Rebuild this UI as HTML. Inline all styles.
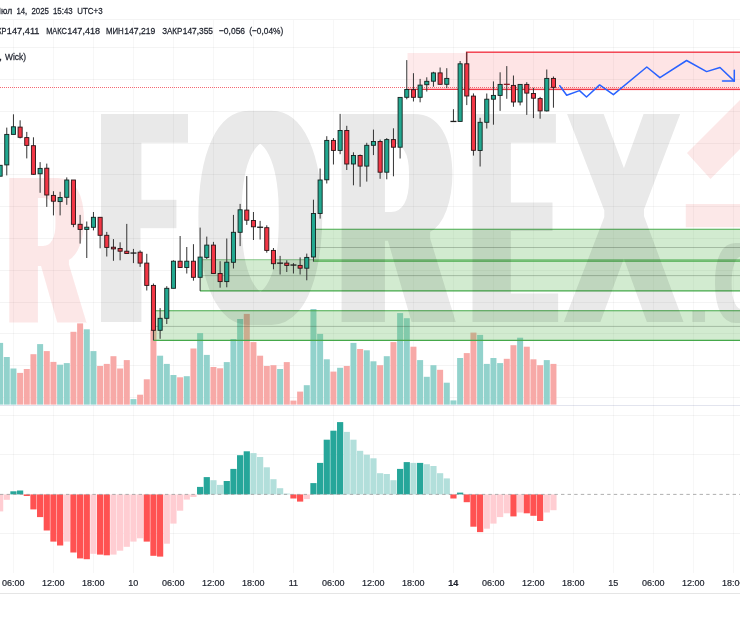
<!DOCTYPE html>
<html lang="ru"><head><meta charset="utf-8"><title>Chart</title>
<style>
html,body{margin:0;padding:0;background:#fff;}
body{width:740px;height:620px;overflow:hidden;}
svg{display:block;}
text{font-family:"Liberation Sans",sans-serif;}
.ax{font-size:9.0px;fill:#1e222d;stroke:#1e222d;stroke-width:0.2px;text-anchor:middle;}
.hd{font-size:9.6px;fill:#1e222d;stroke:#1e222d;stroke-width:0.26px;}
</style></head>
<body>
<svg width="740" height="620" viewBox="0 0 740 620">
<defs>
<filter id="fat" x="-5%" y="-5%" width="110%" height="110%"><feMorphology operator="dilate" radius="11 0"/><feMorphology operator="erode" radius="0 3"/></filter>
<filter id="fatR" x="-20%" y="-5%" width="140%" height="110%"><feMorphology operator="dilate" radius="7 0"/><feMorphology operator="erode" radius="0 2"/></filter>
<filter id="fatC" x="-20%" y="-5%" width="140%" height="110%"><feMorphology operator="dilate" radius="4 0"/></filter>
<clipPath id="fclip"><path clip-rule="evenodd" d="M0,0H740V620H0Z M140.5,203H197V252H140.5Z"/></clipPath>
</defs>
<rect width="740" height="620" fill="#ffffff"/>
<g id="grid" stroke="rgba(0,0,0,0.042)" stroke-width="1" shape-rendering="crispEdges">
<line x1="13.5" y1="19.5" x2="13.5" y2="573" stroke="rgba(0,0,0,0.032)"/><line x1="53.5" y1="19.5" x2="53.5" y2="573" stroke="rgba(0,0,0,0.032)"/><line x1="93.5" y1="19.5" x2="93.5" y2="573" stroke="rgba(0,0,0,0.032)"/><line x1="133.5" y1="19.5" x2="133.5" y2="573" stroke="rgba(0,0,0,0.032)"/><line x1="173.5" y1="19.5" x2="173.5" y2="573" stroke="rgba(0,0,0,0.032)"/><line x1="213.5" y1="19.5" x2="213.5" y2="573" stroke="rgba(0,0,0,0.032)"/><line x1="253.5" y1="19.5" x2="253.5" y2="573" stroke="rgba(0,0,0,0.032)"/><line x1="293.5" y1="19.5" x2="293.5" y2="573" stroke="rgba(0,0,0,0.032)"/><line x1="333.5" y1="19.5" x2="333.5" y2="573" stroke="rgba(0,0,0,0.032)"/><line x1="373.5" y1="19.5" x2="373.5" y2="573" stroke="rgba(0,0,0,0.032)"/><line x1="413.5" y1="19.5" x2="413.5" y2="573" stroke="rgba(0,0,0,0.032)"/><line x1="453.5" y1="19.5" x2="453.5" y2="573" stroke="rgba(0,0,0,0.032)"/><line x1="493.5" y1="19.5" x2="493.5" y2="573" stroke="rgba(0,0,0,0.032)"/><line x1="533.5" y1="19.5" x2="533.5" y2="573" stroke="rgba(0,0,0,0.032)"/><line x1="573.5" y1="19.5" x2="573.5" y2="573" stroke="rgba(0,0,0,0.032)"/><line x1="613.5" y1="19.5" x2="613.5" y2="573" stroke="rgba(0,0,0,0.032)"/><line x1="653.5" y1="19.5" x2="653.5" y2="573" stroke="rgba(0,0,0,0.032)"/><line x1="693.5" y1="19.5" x2="693.5" y2="573" stroke="rgba(0,0,0,0.032)"/><line x1="733.5" y1="19.5" x2="733.5" y2="573" stroke="rgba(0,0,0,0.032)"/>
<line x1="0" y1="47.7" x2="740" y2="47.7"/><line x1="0" y1="79.5" x2="740" y2="79.5"/><line x1="0" y1="111.3" x2="740" y2="111.3"/><line x1="0" y1="143.1" x2="740" y2="143.1"/><line x1="0" y1="174.9" x2="740" y2="174.9"/><line x1="0" y1="206.7" x2="740" y2="206.7"/><line x1="0" y1="238.5" x2="740" y2="238.5"/><line x1="0" y1="270.3" x2="740" y2="270.3"/><line x1="0" y1="302.1" x2="740" y2="302.1"/><line x1="0" y1="333.9" x2="740" y2="333.9"/><line x1="0" y1="365.7" x2="740" y2="365.7"/><line x1="0" y1="397.5" x2="740" y2="397.5"/><line x1="0" y1="415.4" x2="740" y2="415.4"/><line x1="0" y1="454.7" x2="740" y2="454.7"/><line x1="0" y1="533.3" x2="740" y2="533.3"/>
<line x1="0" y1="19.5" x2="740" y2="19.5"/><line x1="0" y1="593.8" x2="740" y2="593.8" stroke="rgba(0,0,0,0.1)"/>
<line x1="0" y1="405" x2="740" y2="405" stroke="rgba(30,50,120,0.13)"/>
</g>
<g id="volume">
<rect x="-2.88" y="342.9" width="6" height="61.7" fill="#92d2cc"/><rect x="3.78" y="357.0" width="6" height="47.6" fill="#92d2cc"/><rect x="10.45" y="368.5" width="6" height="36.1" fill="#92d2cc"/><rect x="17.12" y="372.9" width="6" height="31.7" fill="#f7a9a7"/><rect x="23.78" y="369.0" width="6" height="35.6" fill="#f7a9a7"/><rect x="30.45" y="354.2" width="6" height="50.4" fill="#f7a9a7"/><rect x="37.12" y="344.1" width="6" height="60.5" fill="#92d2cc"/><rect x="43.78" y="351.1" width="6" height="53.5" fill="#f7a9a7"/><rect x="50.45" y="361.9" width="6" height="42.7" fill="#f7a9a7"/><rect x="57.12" y="364.7" width="6" height="39.9" fill="#92d2cc"/><rect x="63.78" y="363.1" width="6" height="41.5" fill="#92d2cc"/><rect x="70.45" y="331.8" width="6" height="72.8" fill="#f7a9a7"/><rect x="77.12" y="323.4" width="6" height="81.2" fill="#f7a9a7"/><rect x="83.78" y="329.3" width="6" height="75.3" fill="#92d2cc"/><rect x="90.45" y="351.1" width="6" height="53.5" fill="#92d2cc"/><rect x="97.12" y="366.0" width="6" height="38.6" fill="#f7a9a7"/><rect x="103.78" y="363.9" width="6" height="40.7" fill="#f7a9a7"/><rect x="110.45" y="356.2" width="6" height="48.4" fill="#f7a9a7"/><rect x="117.12" y="368.5" width="6" height="36.1" fill="#f7a9a7"/><rect x="123.78" y="360.1" width="6" height="44.5" fill="#f7a9a7"/><rect x="130.45" y="399.1" width="6" height="5.5" fill="#92d2cc"/><rect x="137.12" y="394.7" width="6" height="9.9" fill="#f7a9a7"/><rect x="143.78" y="379.3" width="6" height="25.3" fill="#f7a9a7"/><rect x="150.45" y="329.8" width="6" height="74.8" fill="#f7a9a7"/><rect x="157.12" y="355.7" width="6" height="48.9" fill="#92d2cc"/><rect x="163.78" y="363.9" width="6" height="40.7" fill="#92d2cc"/><rect x="170.45" y="375.0" width="6" height="29.6" fill="#92d2cc"/><rect x="177.12" y="377.3" width="6" height="27.3" fill="#f7a9a7"/><rect x="183.78" y="376.2" width="6" height="28.4" fill="#92d2cc"/><rect x="190.45" y="348.5" width="6" height="56.1" fill="#f7a9a7"/><rect x="197.12" y="333.1" width="6" height="71.5" fill="#92d2cc"/><rect x="203.78" y="354.9" width="6" height="49.7" fill="#92d2cc"/><rect x="210.45" y="367.0" width="6" height="37.6" fill="#f7a9a7"/><rect x="217.12" y="368.3" width="6" height="36.3" fill="#f7a9a7"/><rect x="223.78" y="362.1" width="6" height="42.5" fill="#92d2cc"/><rect x="230.45" y="339.0" width="6" height="65.6" fill="#92d2cc"/><rect x="237.12" y="319.0" width="6" height="85.6" fill="#92d2cc"/><rect x="243.78" y="313.9" width="6" height="90.7" fill="#f7a9a7"/><rect x="250.45" y="342.1" width="6" height="62.5" fill="#f7a9a7"/><rect x="257.12" y="355.7" width="6" height="48.9" fill="#f7a9a7"/><rect x="263.78" y="366.0" width="6" height="38.6" fill="#f7a9a7"/><rect x="270.45" y="365.2" width="6" height="39.4" fill="#f7a9a7"/><rect x="277.12" y="369.0" width="6" height="35.6" fill="#92d2cc"/><rect x="283.78" y="362.1" width="6" height="42.5" fill="#f7a9a7"/><rect x="290.45" y="400.6" width="6" height="4.0" fill="#f7a9a7"/><rect x="297.12" y="391.6" width="6" height="13.0" fill="#f7a9a7"/><rect x="303.78" y="385.2" width="6" height="19.4" fill="#92d2cc"/><rect x="310.45" y="309.0" width="6" height="95.6" fill="#92d2cc"/><rect x="317.12" y="333.9" width="6" height="70.7" fill="#92d2cc"/><rect x="323.78" y="359.3" width="6" height="45.3" fill="#92d2cc"/><rect x="330.45" y="371.6" width="6" height="33.0" fill="#f7a9a7"/><rect x="337.12" y="367.8" width="6" height="36.8" fill="#92d2cc"/><rect x="343.78" y="366.0" width="6" height="38.6" fill="#f7a9a7"/><rect x="350.45" y="342.9" width="6" height="61.7" fill="#92d2cc"/><rect x="357.12" y="349.0" width="6" height="55.6" fill="#f7a9a7"/><rect x="363.78" y="350.3" width="6" height="54.3" fill="#92d2cc"/><rect x="370.45" y="361.3" width="6" height="43.3" fill="#92d2cc"/><rect x="377.12" y="365.2" width="6" height="39.4" fill="#f7a9a7"/><rect x="383.78" y="356.2" width="6" height="48.4" fill="#92d2cc"/><rect x="390.45" y="342.1" width="6" height="62.5" fill="#f7a9a7"/><rect x="397.12" y="313.1" width="6" height="91.5" fill="#92d2cc"/><rect x="403.78" y="318.2" width="6" height="86.4" fill="#92d2cc"/><rect x="410.45" y="346.7" width="6" height="57.9" fill="#f7a9a7"/><rect x="417.12" y="360.1" width="6" height="44.5" fill="#92d2cc"/><rect x="423.78" y="376.8" width="6" height="27.8" fill="#92d2cc"/><rect x="430.45" y="365.2" width="6" height="39.4" fill="#92d2cc"/><rect x="437.12" y="369.8" width="6" height="34.8" fill="#f7a9a7"/><rect x="443.78" y="382.7" width="6" height="21.9" fill="#92d2cc"/><rect x="450.45" y="400.4" width="6" height="4.2" fill="#92d2cc"/><rect x="457.12" y="358.0" width="6" height="46.6" fill="#92d2cc"/><rect x="463.78" y="353.1" width="6" height="51.5" fill="#f7a9a7"/><rect x="470.45" y="332.6" width="6" height="72.0" fill="#f7a9a7"/><rect x="477.12" y="334.9" width="6" height="69.7" fill="#92d2cc"/><rect x="483.78" y="363.9" width="6" height="40.7" fill="#92d2cc"/><rect x="490.45" y="358.0" width="6" height="46.6" fill="#92d2cc"/><rect x="497.12" y="363.1" width="6" height="41.5" fill="#92d2cc"/><rect x="503.78" y="358.8" width="6" height="45.8" fill="#f7a9a7"/><rect x="510.45" y="345.2" width="6" height="59.4" fill="#f7a9a7"/><rect x="517.12" y="337.7" width="6" height="66.9" fill="#92d2cc"/><rect x="523.78" y="346.7" width="6" height="57.9" fill="#f7a9a7"/><rect x="530.45" y="359.3" width="6" height="45.3" fill="#f7a9a7"/><rect x="537.12" y="365.2" width="6" height="39.4" fill="#f7a9a7"/><rect x="543.78" y="360.1" width="6" height="44.5" fill="#92d2cc"/><rect x="550.45" y="363.9" width="6" height="40.7" fill="#f7a9a7"/>
</g>
<g id="macd">
<rect x="-2.98" y="494.4" width="6.2" height="17.0" fill="#ffcdd2"/><rect x="3.68" y="494.4" width="6.2" height="5.4" fill="#ffcdd2"/><rect x="10.35" y="491.3" width="6.2" height="3.1" fill="#26a69a"/><rect x="17.02" y="490.5" width="6.2" height="3.9" fill="#26a69a"/><rect x="23.68" y="494.4" width="6.2" height="1.6" fill="#ff5252"/><rect x="30.35" y="494.4" width="6.2" height="15.0" fill="#ff5252"/><rect x="37.02" y="494.4" width="6.2" height="22.7" fill="#ff5252"/><rect x="43.68" y="494.4" width="6.2" height="36.1" fill="#ff5252"/><rect x="50.35" y="494.4" width="6.2" height="47.2" fill="#ff5252"/><rect x="57.02" y="494.4" width="6.2" height="51.1" fill="#ff5252"/><rect x="63.68" y="494.4" width="6.2" height="47.2" fill="#ffcdd2"/><rect x="70.35" y="494.4" width="6.2" height="58.1" fill="#ff5252"/><rect x="77.02" y="494.4" width="6.2" height="64.0" fill="#ff5252"/><rect x="83.68" y="494.4" width="6.2" height="64.8" fill="#ff5252"/><rect x="90.35" y="494.4" width="6.2" height="59.4" fill="#ffcdd2"/><rect x="97.02" y="494.4" width="6.2" height="60.2" fill="#ff5252"/><rect x="103.68" y="494.4" width="6.2" height="60.9" fill="#ff5252"/><rect x="110.35" y="494.4" width="6.2" height="60.2" fill="#ffcdd2"/><rect x="117.02" y="494.4" width="6.2" height="56.3" fill="#ffcdd2"/><rect x="123.68" y="494.4" width="6.2" height="52.4" fill="#ffcdd2"/><rect x="130.35" y="494.4" width="6.2" height="47.2" fill="#ffcdd2"/><rect x="137.02" y="494.4" width="6.2" height="43.9" fill="#ffcdd2"/><rect x="143.68" y="494.4" width="6.2" height="47.2" fill="#ff5252"/><rect x="150.35" y="494.4" width="6.2" height="61.4" fill="#ff5252"/><rect x="157.02" y="494.4" width="6.2" height="62.2" fill="#ff5252"/><rect x="163.68" y="494.4" width="6.2" height="49.3" fill="#ffcdd2"/><rect x="170.35" y="494.4" width="6.2" height="29.2" fill="#ffcdd2"/><rect x="177.02" y="494.4" width="6.2" height="16.3" fill="#ffcdd2"/><rect x="183.68" y="494.4" width="6.2" height="5.2" fill="#ffcdd2"/><rect x="190.35" y="494.4" width="6.2" height="2.6" fill="#ffcdd2"/><rect x="197.02" y="486.9" width="6.2" height="7.5" fill="#26a69a"/><rect x="203.68" y="477.1" width="6.2" height="17.3" fill="#26a69a"/><rect x="210.35" y="480.2" width="6.2" height="14.2" fill="#b2dfdb"/><rect x="217.02" y="484.9" width="6.2" height="9.5" fill="#b2dfdb"/><rect x="223.68" y="481.0" width="6.2" height="13.4" fill="#26a69a"/><rect x="230.35" y="468.9" width="6.2" height="25.5" fill="#26a69a"/><rect x="237.02" y="455.2" width="6.2" height="39.2" fill="#26a69a"/><rect x="243.68" y="451.3" width="6.2" height="43.1" fill="#26a69a"/><rect x="250.35" y="453.1" width="6.2" height="41.3" fill="#b2dfdb"/><rect x="257.02" y="457.0" width="6.2" height="37.4" fill="#b2dfdb"/><rect x="263.68" y="467.3" width="6.2" height="27.1" fill="#b2dfdb"/><rect x="270.35" y="479.2" width="6.2" height="15.2" fill="#b2dfdb"/><rect x="277.02" y="488.2" width="6.2" height="6.2" fill="#b2dfdb"/><rect x="283.68" y="493.6" width="6.2" height="0.8" fill="#b2dfdb"/><rect x="290.35" y="494.4" width="6.2" height="4.1" fill="#ff5252"/><rect x="297.02" y="494.4" width="6.2" height="7.2" fill="#ff5252"/><rect x="303.68" y="494.4" width="6.2" height="4.7" fill="#ffcdd2"/><rect x="310.35" y="483.1" width="6.2" height="11.3" fill="#26a69a"/><rect x="317.02" y="462.9" width="6.2" height="31.5" fill="#26a69a"/><rect x="323.68" y="439.7" width="6.2" height="54.7" fill="#26a69a"/><rect x="330.35" y="430.7" width="6.2" height="63.7" fill="#26a69a"/><rect x="337.02" y="422.1" width="6.2" height="72.3" fill="#26a69a"/><rect x="343.68" y="431.9" width="6.2" height="62.5" fill="#b2dfdb"/><rect x="350.35" y="439.7" width="6.2" height="54.7" fill="#b2dfdb"/><rect x="357.02" y="450.8" width="6.2" height="43.6" fill="#b2dfdb"/><rect x="363.68" y="454.7" width="6.2" height="39.7" fill="#b2dfdb"/><rect x="370.35" y="458.3" width="6.2" height="36.1" fill="#b2dfdb"/><rect x="377.02" y="473.2" width="6.2" height="21.2" fill="#b2dfdb"/><rect x="383.68" y="474.0" width="6.2" height="20.4" fill="#b2dfdb"/><rect x="390.35" y="480.2" width="6.2" height="14.2" fill="#b2dfdb"/><rect x="397.02" y="468.9" width="6.2" height="25.5" fill="#26a69a"/><rect x="403.68" y="462.1" width="6.2" height="32.3" fill="#26a69a"/><rect x="410.35" y="462.9" width="6.2" height="31.5" fill="#b2dfdb"/><rect x="417.02" y="462.9" width="6.2" height="31.5" fill="#26a69a"/><rect x="423.68" y="464.2" width="6.2" height="30.2" fill="#b2dfdb"/><rect x="430.35" y="466.0" width="6.2" height="28.4" fill="#b2dfdb"/><rect x="437.02" y="473.2" width="6.2" height="21.2" fill="#b2dfdb"/><rect x="443.68" y="478.4" width="6.2" height="16.0" fill="#b2dfdb"/><rect x="450.35" y="494.4" width="6.2" height="4.1" fill="#ff5252"/><rect x="457.02" y="492.6" width="6.2" height="1.8" fill="#26a69a"/><rect x="463.68" y="494.4" width="6.2" height="7.8" fill="#ff5252"/><rect x="470.35" y="494.4" width="6.2" height="32.3" fill="#ff5252"/><rect x="477.02" y="494.4" width="6.2" height="37.7" fill="#ff5252"/><rect x="483.68" y="494.4" width="6.2" height="34.3" fill="#ffcdd2"/><rect x="490.35" y="494.4" width="6.2" height="29.2" fill="#ffcdd2"/><rect x="497.02" y="494.4" width="6.2" height="22.7" fill="#ffcdd2"/><rect x="503.68" y="494.4" width="6.2" height="18.9" fill="#ffcdd2"/><rect x="510.35" y="494.4" width="6.2" height="22.0" fill="#ff5252"/><rect x="517.02" y="494.4" width="6.2" height="18.1" fill="#ffcdd2"/><rect x="523.68" y="494.4" width="6.2" height="18.9" fill="#ff5252"/><rect x="530.35" y="494.4" width="6.2" height="21.4" fill="#ff5252"/><rect x="537.02" y="494.4" width="6.2" height="26.6" fill="#ff5252"/><rect x="543.68" y="494.4" width="6.2" height="18.1" fill="#ffcdd2"/><rect x="550.35" y="494.4" width="6.2" height="15.8" fill="#ffcdd2"/>
<line x1="0" y1="494.4" x2="740" y2="494.4" stroke="#9a9a9a" stroke-width="0.8" stroke-dasharray="3.4 3.2"/>
</g>
<g id="zones">
<rect x="407.5" y="53" width="340" height="36.5" fill="rgba(242,54,69,0.105)"/>
<rect x="466.6" y="52.2" width="280" height="37.2" fill="rgba(242,54,69,0.03)" stroke="#f23645" stroke-width="1.4"/>
<line x1="407.5" y1="89.4" x2="470" y2="89.4" stroke="#f23645" stroke-width="1.4"/>
<rect x="313.4" y="229.3" width="446.6" height="31.8" fill="rgba(88,180,80,0.27)"/><line x1="313.4" y1="229.3" x2="740" y2="229.3" stroke="#45a84a" stroke-width="1.1" opacity="1"/><line x1="313.4" y1="261.1" x2="740" y2="261.1" stroke="#45a84a" stroke-width="1.2"/><line x1="313.4" y1="247.5" x2="740" y2="247.5" stroke="rgba(50,70,50,0.36)" stroke-width="0.8"/>
<rect x="200" y="259.6" width="560" height="31.3" fill="rgba(88,180,80,0.27)"/><line x1="200" y1="259.6" x2="740" y2="259.6" stroke="#45a84a" stroke-width="1.1" opacity="0.45"/><line x1="200" y1="290.9" x2="740" y2="290.9" stroke="#45a84a" stroke-width="1.2"/><line x1="200" y1="275.6" x2="740" y2="275.6" stroke="rgba(50,70,50,0.36)" stroke-width="0.8"/>
<rect x="153.4" y="310.8" width="606.6" height="29.6" fill="rgba(88,180,80,0.27)"/><line x1="153.4" y1="310.8" x2="740" y2="310.8" stroke="#45a84a" stroke-width="1.1" opacity="1"/><line x1="153.4" y1="340.4" x2="740" y2="340.4" stroke="#45a84a" stroke-width="1.2"/><line x1="153.4" y1="326.4" x2="740" y2="326.4" stroke="rgba(50,70,50,0.36)" stroke-width="0.8"/>
</g>
<g id="watermark">
<g opacity="0.1">
<g filter="url(#fatR)"><text y="323.5" font-size="215" font-weight="bold" fill="#e31e24"><tspan x="9.4" textLength="73.2" lengthAdjust="spacingAndGlyphs">R</tspan></text></g>
</g>
<g opacity="0.088">
<g filter="url(#fat)" clip-path="url(#fclip)"><text y="325" font-size="311" font-weight="bold" fill="#000000"><tspan x="103.4" textLength="78.3" lengthAdjust="spacingAndGlyphs">F</tspan><tspan x="203.3" textLength="114.2" lengthAdjust="spacingAndGlyphs">O</tspan><tspan x="342.7" textLength="106.9" lengthAdjust="spacingAndGlyphs">R</tspan><tspan x="475.9" textLength="75.7" lengthAdjust="spacingAndGlyphs">E</tspan><tspan x="568.8" textLength="109.4" lengthAdjust="spacingAndGlyphs" font-weight="normal">X</tspan></text></g>
<rect x="139" y="199.8" width="37.4" height="28.4" fill="#000000"/>
<g filter="url(#fatC)"><text y="322" font-size="114" font-weight="bold" fill="#000000"><tspan x="693.9" textLength="9.4" lengthAdjust="spacingAndGlyphs" font-size="74">.</tspan><tspan x="716.6" textLength="43.3" lengthAdjust="spacingAndGlyphs">C</tspan><tspan x="770.5" textLength="46.7" lengthAdjust="spacingAndGlyphs">O</tspan><tspan x="823.0" textLength="50.0" lengthAdjust="spacingAndGlyphs">M</tspan></text></g>
</g>
<g opacity="0.1">
<polygon points="687,153 740,100 740,149 710.5,179" fill="#e31e24"/>
<rect x="685.8" y="204" width="60" height="23.2" fill="#e31e24"/>
</g>
</g>
<line x1="0" y1="87.5" x2="740" y2="87.5" stroke="#f23645" stroke-width="1" stroke-dasharray="1 1" opacity="0.75" shape-rendering="crispEdges"/>
<g id="candles">
<line x1="0.12" y1="165.3" x2="0.12" y2="176.2" stroke="#333333" stroke-width="1"/><rect x="-1.93" y="165.3" width="4.1" height="10.9" fill="#22a890" stroke="#14221f" stroke-width="0.9"/>
<line x1="6.78" y1="127.6" x2="6.78" y2="175.4" stroke="#333333" stroke-width="1"/><rect x="4.73" y="134.4" width="4.1" height="30.5" fill="#22a890" stroke="#14221f" stroke-width="0.9"/>
<line x1="13.45" y1="114.3" x2="13.45" y2="134.4" stroke="#333333" stroke-width="1"/><rect x="11.40" y="126.8" width="4.1" height="7.6" fill="#22a890" stroke="#14221f" stroke-width="0.9"/>
<line x1="20.12" y1="120.3" x2="20.12" y2="138.4" stroke="#333333" stroke-width="1"/><rect x="18.07" y="127.1" width="4.1" height="10.2" fill="#f23645" stroke="#2a1416" stroke-width="0.9"/>
<line x1="26.78" y1="131.9" x2="26.78" y2="158.4" stroke="#333333" stroke-width="1"/><rect x="24.73" y="137.6" width="4.1" height="7.8" fill="#f23645" stroke="#2a1416" stroke-width="0.9"/>
<line x1="33.45" y1="137.3" x2="33.45" y2="174.9" stroke="#333333" stroke-width="1"/><rect x="31.40" y="145.7" width="4.1" height="28.6" fill="#f23645" stroke="#2a1416" stroke-width="0.9"/>
<line x1="40.12" y1="162.1" x2="40.12" y2="192.8" stroke="#333333" stroke-width="1"/><rect x="38.07" y="168.4" width="4.1" height="5.4" fill="#22a890" stroke="#14221f" stroke-width="0.9"/>
<line x1="46.78" y1="163.6" x2="46.78" y2="206.9" stroke="#333333" stroke-width="1"/><rect x="44.73" y="168.2" width="4.1" height="26.8" fill="#f23645" stroke="#2a1416" stroke-width="0.9"/>
<line x1="53.45" y1="191.2" x2="53.45" y2="215.4" stroke="#333333" stroke-width="1"/><rect x="51.40" y="195.4" width="4.1" height="5.8" fill="#f23645" stroke="#2a1416" stroke-width="0.9"/>
<line x1="60.12" y1="191.8" x2="60.12" y2="215.4" stroke="#333333" stroke-width="1"/><rect x="58.07" y="197.5" width="4.1" height="4.1" fill="#22a890" stroke="#14221f" stroke-width="0.9"/>
<line x1="66.78" y1="177.4" x2="66.78" y2="204.8" stroke="#333333" stroke-width="1"/><rect x="64.73" y="180.0" width="4.1" height="17.3" fill="#22a890" stroke="#14221f" stroke-width="0.9"/>
<line x1="73.45" y1="180" x2="73.45" y2="227.2" stroke="#333333" stroke-width="1"/><rect x="71.40" y="180.0" width="4.1" height="44.3" fill="#f23645" stroke="#2a1416" stroke-width="0.9"/>
<line x1="80.12" y1="214.9" x2="80.12" y2="243.6" stroke="#333333" stroke-width="1"/><rect x="78.07" y="224.3" width="4.1" height="5.1" fill="#f23645" stroke="#2a1416" stroke-width="0.9"/>
<line x1="86.78" y1="221.5" x2="86.78" y2="258" stroke="#333333" stroke-width="1"/><rect x="84.73" y="227.2" width="4.1" height="2.2" fill="#22a890" stroke="#14221f" stroke-width="0.9"/>
<line x1="93.45" y1="212" x2="93.45" y2="230.4" stroke="#333333" stroke-width="1"/><rect x="91.40" y="217.3" width="4.1" height="10.0" fill="#22a890" stroke="#14221f" stroke-width="0.9"/>
<line x1="100.12" y1="217.3" x2="100.12" y2="248.3" stroke="#333333" stroke-width="1"/><rect x="98.07" y="217.3" width="4.1" height="18.0" fill="#f23645" stroke="#2a1416" stroke-width="0.9"/>
<line x1="106.78" y1="231.9" x2="106.78" y2="256.5" stroke="#333333" stroke-width="1"/><rect x="104.73" y="235.3" width="4.1" height="12.1" fill="#f23645" stroke="#2a1416" stroke-width="0.9"/>
<line x1="113.45" y1="239.1" x2="113.45" y2="260.8" stroke="#333333" stroke-width="1"/><rect x="111.40" y="247.2" width="4.1" height="1.7" fill="#f23645" stroke="#2a1416" stroke-width="0.9"/>
<line x1="120.12" y1="242.3" x2="120.12" y2="260.3" stroke="#333333" stroke-width="1"/><rect x="118.07" y="248.5" width="4.1" height="2.7" fill="#f23645" stroke="#2a1416" stroke-width="0.9"/>
<line x1="126.78" y1="223.9" x2="126.78" y2="253.5" stroke="#333333" stroke-width="1"/><rect x="124.73" y="251.2" width="4.1" height="2.3" fill="#f23645" stroke="#2a1416" stroke-width="0.9"/>
<line x1="133.45" y1="248.9" x2="133.45" y2="263.1" stroke="#333333" stroke-width="1"/><rect x="130.45" y="252.4" width="6" height="1.3" fill="#1c1c1c"/>
<line x1="140.12" y1="250.4" x2="140.12" y2="266.9" stroke="#333333" stroke-width="1"/><rect x="138.07" y="252.2" width="4.1" height="10.9" fill="#f23645" stroke="#2a1416" stroke-width="0.9"/>
<line x1="146.78" y1="253.8" x2="146.78" y2="290.5" stroke="#333333" stroke-width="1"/><rect x="144.73" y="263.1" width="4.1" height="22.3" fill="#f23645" stroke="#2a1416" stroke-width="0.9"/>
<line x1="153.45" y1="283.5" x2="153.45" y2="340.3" stroke="#333333" stroke-width="1"/><rect x="151.40" y="285.4" width="4.1" height="44.9" fill="#f23645" stroke="#2a1416" stroke-width="0.9"/>
<line x1="160.12" y1="308.1" x2="160.12" y2="338.8" stroke="#333333" stroke-width="1"/><rect x="158.07" y="318.3" width="4.1" height="12.0" fill="#22a890" stroke="#14221f" stroke-width="0.9"/>
<line x1="166.78" y1="286.2" x2="166.78" y2="324" stroke="#333333" stroke-width="1"/><rect x="164.73" y="288.3" width="4.1" height="30.0" fill="#22a890" stroke="#14221f" stroke-width="0.9"/>
<line x1="173.45" y1="260.3" x2="173.45" y2="288.3" stroke="#333333" stroke-width="1"/><rect x="171.40" y="261.2" width="4.1" height="27.1" fill="#22a890" stroke="#14221f" stroke-width="0.9"/>
<line x1="180.12" y1="236" x2="180.12" y2="267.9" stroke="#333333" stroke-width="1"/><rect x="178.07" y="261.2" width="4.1" height="6.3" fill="#f23645" stroke="#2a1416" stroke-width="0.9"/>
<line x1="186.78" y1="247" x2="186.78" y2="273.5" stroke="#333333" stroke-width="1"/><rect x="184.73" y="261.2" width="4.1" height="6.3" fill="#22a890" stroke="#14221f" stroke-width="0.9"/>
<line x1="193.45" y1="244.2" x2="193.45" y2="280.7" stroke="#333333" stroke-width="1"/><rect x="191.40" y="261.2" width="4.1" height="16.1" fill="#f23645" stroke="#2a1416" stroke-width="0.9"/>
<line x1="200.12" y1="227.6" x2="200.12" y2="290.9" stroke="#333333" stroke-width="1"/><rect x="198.07" y="257.1" width="4.1" height="20.2" fill="#22a890" stroke="#14221f" stroke-width="0.9"/>
<line x1="206.78" y1="236.6" x2="206.78" y2="259" stroke="#333333" stroke-width="1"/><rect x="204.73" y="245.1" width="4.1" height="12.3" fill="#22a890" stroke="#14221f" stroke-width="0.9"/>
<line x1="213.45" y1="241.9" x2="213.45" y2="273.5" stroke="#333333" stroke-width="1"/><rect x="211.40" y="245.1" width="4.1" height="28.4" fill="#f23645" stroke="#2a1416" stroke-width="0.9"/>
<line x1="220.12" y1="261.2" x2="220.12" y2="287.7" stroke="#333333" stroke-width="1"/><rect x="218.07" y="273.5" width="4.1" height="8.1" fill="#f23645" stroke="#2a1416" stroke-width="0.9"/>
<line x1="226.78" y1="238.5" x2="226.78" y2="287.3" stroke="#333333" stroke-width="1"/><rect x="224.73" y="262.2" width="4.1" height="19.4" fill="#22a890" stroke="#14221f" stroke-width="0.9"/>
<line x1="233.45" y1="214.9" x2="233.45" y2="268.5" stroke="#333333" stroke-width="1"/><rect x="231.40" y="232.3" width="4.1" height="30.0" fill="#22a890" stroke="#14221f" stroke-width="0.9"/>
<line x1="240.12" y1="203.9" x2="240.12" y2="246.1" stroke="#333333" stroke-width="1"/><rect x="238.07" y="209.8" width="4.1" height="22.5" fill="#22a890" stroke="#14221f" stroke-width="0.9"/>
<line x1="246.78" y1="176.1" x2="246.78" y2="224.9" stroke="#333333" stroke-width="1"/><rect x="244.73" y="210.1" width="4.1" height="10.1" fill="#f23645" stroke="#2a1416" stroke-width="0.9"/>
<line x1="253.45" y1="212" x2="253.45" y2="240" stroke="#333333" stroke-width="1"/><rect x="251.40" y="220.5" width="4.1" height="6.3" fill="#f23645" stroke="#2a1416" stroke-width="0.9"/>
<line x1="260.12" y1="220.9" x2="260.12" y2="239.5" stroke="#333333" stroke-width="1"/><rect x="257.12" y="226.6" width="6" height="1.3" fill="#1c1c1c"/>
<line x1="266.78" y1="225.3" x2="266.78" y2="252.7" stroke="#333333" stroke-width="1"/><rect x="264.73" y="227.7" width="4.1" height="22.7" fill="#f23645" stroke="#2a1416" stroke-width="0.9"/>
<line x1="273.45" y1="248" x2="273.45" y2="269.3" stroke="#333333" stroke-width="1"/><rect x="271.40" y="250.4" width="4.1" height="13.3" fill="#f23645" stroke="#2a1416" stroke-width="0.9"/>
<line x1="280.12" y1="255.9" x2="280.12" y2="274.5" stroke="#333333" stroke-width="1"/><rect x="277.12" y="262.5" width="6" height="1.3" fill="#1c1c1c"/>
<line x1="286.78" y1="260.3" x2="286.78" y2="272" stroke="#333333" stroke-width="1"/><rect x="284.73" y="263.1" width="4.1" height="2.3" fill="#f23645" stroke="#2a1416" stroke-width="0.9"/>
<line x1="293.45" y1="263.1" x2="293.45" y2="273.5" stroke="#333333" stroke-width="1"/><rect x="290.45" y="264.4" width="6" height="1.3" fill="#1c1c1c"/>
<line x1="300.12" y1="257.4" x2="300.12" y2="274.5" stroke="#333333" stroke-width="1"/><rect x="298.07" y="265.4" width="4.1" height="2.8" fill="#f23645" stroke="#2a1416" stroke-width="0.9"/>
<line x1="306.78" y1="253.6" x2="306.78" y2="280.3" stroke="#333333" stroke-width="1"/><rect x="304.73" y="257.4" width="4.1" height="10.8" fill="#22a890" stroke="#14221f" stroke-width="0.9"/>
<line x1="313.45" y1="199.7" x2="313.45" y2="261.6" stroke="#333333" stroke-width="1"/><rect x="311.40" y="213.5" width="4.1" height="43.5" fill="#22a890" stroke="#14221f" stroke-width="0.9"/>
<line x1="320.12" y1="168.5" x2="320.12" y2="218.6" stroke="#333333" stroke-width="1"/><rect x="318.07" y="180.0" width="4.1" height="33.5" fill="#22a890" stroke="#14221f" stroke-width="0.9"/>
<line x1="326.78" y1="136.2" x2="326.78" y2="183.5" stroke="#333333" stroke-width="1"/><rect x="324.73" y="140.4" width="4.1" height="39.4" fill="#22a890" stroke="#14221f" stroke-width="0.9"/>
<line x1="333.45" y1="138.1" x2="333.45" y2="164.5" stroke="#333333" stroke-width="1"/><rect x="331.40" y="140.4" width="4.1" height="10.0" fill="#f23645" stroke="#2a1416" stroke-width="0.9"/>
<line x1="340.12" y1="113.9" x2="340.12" y2="154.2" stroke="#333333" stroke-width="1"/><rect x="338.07" y="130.5" width="4.1" height="19.9" fill="#22a890" stroke="#14221f" stroke-width="0.9"/>
<line x1="346.78" y1="125.8" x2="346.78" y2="170" stroke="#333333" stroke-width="1"/><rect x="344.73" y="130.5" width="4.1" height="33.5" fill="#f23645" stroke="#2a1416" stroke-width="0.9"/>
<line x1="353.45" y1="152.3" x2="353.45" y2="185.3" stroke="#333333" stroke-width="1"/><rect x="351.40" y="155.5" width="4.1" height="8.5" fill="#22a890" stroke="#14221f" stroke-width="0.9"/>
<line x1="360.12" y1="154.5" x2="360.12" y2="186.8" stroke="#333333" stroke-width="1"/><rect x="358.07" y="155.5" width="4.1" height="10.6" fill="#f23645" stroke="#2a1416" stroke-width="0.9"/>
<line x1="366.78" y1="142.8" x2="366.78" y2="181.6" stroke="#333333" stroke-width="1"/><rect x="364.73" y="145.3" width="4.1" height="20.8" fill="#22a890" stroke="#14221f" stroke-width="0.9"/>
<line x1="373.45" y1="129.6" x2="373.45" y2="155.1" stroke="#333333" stroke-width="1"/><rect x="371.40" y="141.5" width="4.1" height="3.8" fill="#22a890" stroke="#14221f" stroke-width="0.9"/>
<line x1="380.12" y1="139.6" x2="380.12" y2="178.8" stroke="#333333" stroke-width="1"/><rect x="378.07" y="141.5" width="4.1" height="30.7" fill="#f23645" stroke="#2a1416" stroke-width="0.9"/>
<line x1="386.78" y1="138.1" x2="386.78" y2="179.3" stroke="#333333" stroke-width="1"/><rect x="384.73" y="139.6" width="4.1" height="32.6" fill="#22a890" stroke="#14221f" stroke-width="0.9"/>
<line x1="393.45" y1="128.3" x2="393.45" y2="176.3" stroke="#333333" stroke-width="1"/><rect x="391.40" y="139.6" width="4.1" height="7.6" fill="#f23645" stroke="#2a1416" stroke-width="0.9"/>
<line x1="400.12" y1="97.4" x2="400.12" y2="158.5" stroke="#333333" stroke-width="1"/><rect x="398.07" y="97.4" width="4.1" height="49.8" fill="#22a890" stroke="#14221f" stroke-width="0.9"/>
<line x1="406.78" y1="60.1" x2="406.78" y2="99.3" stroke="#333333" stroke-width="1"/><rect x="404.73" y="89.5" width="4.1" height="7.8" fill="#22a890" stroke="#14221f" stroke-width="0.9"/>
<line x1="413.45" y1="73.2" x2="413.45" y2="101.5" stroke="#333333" stroke-width="1"/><rect x="411.40" y="89.7" width="4.1" height="7.6" fill="#f23645" stroke="#2a1416" stroke-width="0.9"/>
<line x1="420.12" y1="78.9" x2="420.12" y2="102.3" stroke="#333333" stroke-width="1"/><rect x="418.07" y="85.1" width="4.1" height="12.2" fill="#22a890" stroke="#14221f" stroke-width="0.9"/>
<line x1="426.78" y1="77.3" x2="426.78" y2="91.5" stroke="#333333" stroke-width="1"/><rect x="424.73" y="81.3" width="4.1" height="3.4" fill="#22a890" stroke="#14221f" stroke-width="0.9"/>
<line x1="433.45" y1="71.8" x2="433.45" y2="86.7" stroke="#333333" stroke-width="1"/><rect x="431.40" y="72.9" width="4.1" height="8.3" fill="#22a890" stroke="#14221f" stroke-width="0.9"/>
<line x1="440.12" y1="67.5" x2="440.12" y2="84.3" stroke="#333333" stroke-width="1"/><rect x="438.07" y="72.9" width="4.1" height="11.4" fill="#f23645" stroke="#2a1416" stroke-width="0.9"/>
<line x1="446.78" y1="68.2" x2="446.78" y2="88.1" stroke="#333333" stroke-width="1"/><rect x="444.73" y="78.4" width="4.1" height="5.9" fill="#22a890" stroke="#14221f" stroke-width="0.9"/>
<line x1="453.45" y1="109.2" x2="453.45" y2="121.7" stroke="#333333" stroke-width="1"/><rect x="450.45" y="120.8" width="6" height="1.3" fill="#1c1c1c"/>
<line x1="460.12" y1="61" x2="460.12" y2="121.4" stroke="#333333" stroke-width="1"/><rect x="458.07" y="63.8" width="4.1" height="57.6" fill="#22a890" stroke="#14221f" stroke-width="0.9"/>
<line x1="466.78" y1="52.2" x2="466.78" y2="105.1" stroke="#333333" stroke-width="1"/><rect x="464.73" y="63.8" width="4.1" height="32.2" fill="#f23645" stroke="#2a1416" stroke-width="0.9"/>
<line x1="473.45" y1="93.4" x2="473.45" y2="155.6" stroke="#333333" stroke-width="1"/><rect x="471.40" y="96.1" width="4.1" height="54.2" fill="#f23645" stroke="#2a1416" stroke-width="0.9"/>
<line x1="480.12" y1="117.8" x2="480.12" y2="166.5" stroke="#333333" stroke-width="1"/><rect x="478.07" y="122.3" width="4.1" height="28.2" fill="#22a890" stroke="#14221f" stroke-width="0.9"/>
<line x1="486.78" y1="93.5" x2="486.78" y2="128.5" stroke="#333333" stroke-width="1"/><rect x="484.73" y="99.2" width="4.1" height="23.1" fill="#22a890" stroke="#14221f" stroke-width="0.9"/>
<line x1="493.45" y1="81.4" x2="493.45" y2="124.7" stroke="#333333" stroke-width="1"/><rect x="491.40" y="95.4" width="4.1" height="3.8" fill="#22a890" stroke="#14221f" stroke-width="0.9"/>
<line x1="500.12" y1="72.3" x2="500.12" y2="110.9" stroke="#333333" stroke-width="1"/><rect x="498.07" y="84.4" width="4.1" height="11.0" fill="#22a890" stroke="#14221f" stroke-width="0.9"/>
<line x1="506.78" y1="66.1" x2="506.78" y2="98.8" stroke="#333333" stroke-width="1"/><rect x="503.78" y="83.7" width="6" height="1.3" fill="#8c1a22"/>
<line x1="513.45" y1="75.5" x2="513.45" y2="106.8" stroke="#333333" stroke-width="1"/><rect x="511.40" y="85.4" width="4.1" height="16.6" fill="#f23645" stroke="#2a1416" stroke-width="0.9"/>
<line x1="520.12" y1="84.0" x2="520.12" y2="105.4" stroke="#333333" stroke-width="1"/><rect x="518.07" y="84.4" width="4.1" height="17.6" fill="#22a890" stroke="#14221f" stroke-width="0.9"/>
<line x1="526.78" y1="82.2" x2="526.78" y2="114.9" stroke="#333333" stroke-width="1"/><rect x="524.73" y="84.4" width="4.1" height="8.7" fill="#f23645" stroke="#2a1416" stroke-width="0.9"/>
<line x1="533.45" y1="87.8" x2="533.45" y2="118.1" stroke="#333333" stroke-width="1"/><rect x="531.40" y="93.5" width="4.1" height="4.7" fill="#f23645" stroke="#2a1416" stroke-width="0.9"/>
<line x1="540.12" y1="96.9" x2="540.12" y2="118.7" stroke="#333333" stroke-width="1"/><rect x="538.07" y="98.6" width="4.1" height="12.3" fill="#f23645" stroke="#2a1416" stroke-width="0.9"/>
<line x1="546.78" y1="69.5" x2="546.78" y2="111.5" stroke="#333333" stroke-width="1"/><rect x="544.73" y="78.4" width="4.1" height="32.5" fill="#22a890" stroke="#14221f" stroke-width="0.9"/>
<line x1="553.45" y1="76.5" x2="553.45" y2="107.7" stroke="#333333" stroke-width="1"/><rect x="551.40" y="78.4" width="4.1" height="8.9" fill="#f23645" stroke="#2a1416" stroke-width="0.9"/>
</g>
<polyline fill="none" stroke="#2962ff" stroke-width="1.5" stroke-linejoin="round" stroke-linecap="round" points="559.8,85.7 566.7,95.2 579.5,90.6 586.5,97 599.6,84.9 613.4,94.7 646.8,67 659.9,77.7 686.6,60.5 706.6,71.6 720,67.5 734.3,81.1"/>
<polyline fill="none" stroke="#2962ff" stroke-width="1.5" stroke-linejoin="round" stroke-linecap="round" points="722.5,81.1 734.3,81.1 734.3,70.3"/>
<g id="header">
<text class="hd" y="13.9"><tspan x="-5.2" textLength="17.3" lengthAdjust="spacingAndGlyphs">Июл</tspan> <tspan x="16.4" textLength="10.8" lengthAdjust="spacingAndGlyphs">14,</tspan> <tspan x="31.4" textLength="17.5" lengthAdjust="spacingAndGlyphs">2025</tspan> <tspan x="53.0" textLength="19.6" lengthAdjust="spacingAndGlyphs">15:43</tspan> <tspan x="77.3" textLength="25.3" lengthAdjust="spacingAndGlyphs">UTC+3</tspan></text>
<text class="hd" y="34.2"><tspan x="-2.8" textLength="9.2" lengthAdjust="spacingAndGlyphs">КР</tspan><tspan x="6.8" textLength="32.7" lengthAdjust="spacingAndGlyphs">147,411</tspan> <tspan x="46.2" textLength="20.7" lengthAdjust="spacingAndGlyphs">МАКС</tspan><tspan x="67.3" textLength="32.7" lengthAdjust="spacingAndGlyphs">147,418</tspan> <tspan x="105.9" textLength="17.9" lengthAdjust="spacingAndGlyphs">МИН</tspan><tspan x="124.3" textLength="31.1" lengthAdjust="spacingAndGlyphs">147,219</tspan> <tspan x="162.2" textLength="20.2" lengthAdjust="spacingAndGlyphs">ЗАКР</tspan><tspan x="182.8" textLength="30.2" lengthAdjust="spacingAndGlyphs">147,355</tspan> <tspan x="218.9" textLength="26.2" lengthAdjust="spacingAndGlyphs">−0,056</tspan> <tspan x="249.2" textLength="34.0" lengthAdjust="spacingAndGlyphs">(−0,04%)</tspan></text>
<text class="hd" y="60.2"><tspan x="-1" textLength="3.0" lengthAdjust="spacingAndGlyphs">,</tspan> <tspan x="5" textLength="21.0" lengthAdjust="spacingAndGlyphs">Wick)</tspan></text>
</g>
<g id="axis">
<text class="ax" x="13.3" y="586.4">06:00</text><text class="ax" x="53.3" y="586.4">12:00</text><text class="ax" x="93.3" y="586.4">18:00</text><text class="ax" x="133.3" y="586.4">10</text><text class="ax" x="173.3" y="586.4">06:00</text><text class="ax" x="213.3" y="586.4">12:00</text><text class="ax" x="253.3" y="586.4">18:00</text><text class="ax" x="293.3" y="586.4">11</text><text class="ax" x="333.3" y="586.4">06:00</text><text class="ax" x="373.3" y="586.4">12:00</text><text class="ax" x="413.3" y="586.4">18:00</text><text class="ax" font-weight="bold" x="453.3" y="586.4">14</text><text class="ax" x="493.3" y="586.4">06:00</text><text class="ax" x="533.3" y="586.4">12:00</text><text class="ax" x="573.3" y="586.4">18:00</text><text class="ax" x="613.3" y="586.4">15</text><text class="ax" x="653.3" y="586.4">06:00</text><text class="ax" x="693.3" y="586.4">12:00</text><text class="ax" x="733.3" y="586.4">18:00</text>
</g>
</svg>
</body></html>
